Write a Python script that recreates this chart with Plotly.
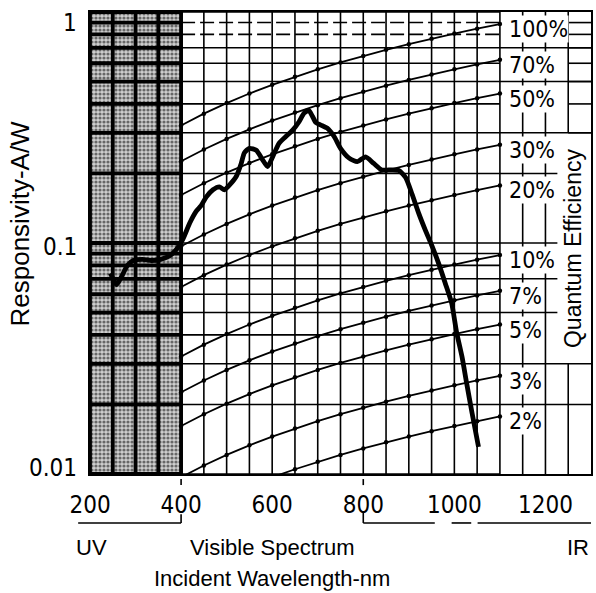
import math
import plotly.graph_objects as go

# ---------------- data ----------------
wavelength_nm = [245, 258, 270, 282, 295, 315, 335, 355, 375, 390, 404, 419, 433, 444,
                 455, 470, 484, 495, 506, 521, 532, 539, 550, 565, 579, 590, 601, 615,
                 630, 645, 659, 670, 680, 688, 696, 707, 721, 736, 750, 769, 787, 805,
                 823, 841, 856, 878, 893, 907, 922, 936, 951, 965, 980, 994, 1005, 1017,
                 1027, 1039, 1053]
responsivity = [0.074, 0.066, 0.072, 0.080, 0.084, 0.085, 0.084, 0.085, 0.088, 0.094,
                0.104, 0.122, 0.137, 0.145, 0.158, 0.170, 0.175, 0.170, 0.178, 0.194,
                0.221, 0.246, 0.257, 0.252, 0.229, 0.214, 0.236, 0.270, 0.289, 0.308,
                0.335, 0.365, 0.375, 0.355, 0.332, 0.324, 0.314, 0.289, 0.257, 0.233,
                0.225, 0.236, 0.221, 0.207, 0.207, 0.206, 0.192, 0.163, 0.134, 0.114,
                0.097, 0.082, 0.067, 0.055, 0.041, 0.032, 0.0247, 0.0183, 0.0131]

qe_levels = [1.0, 0.7, 0.5, 0.3, 0.2, 0.1, 0.07, 0.05, 0.03, 0.02]
qe_labels = ["100%", "70%", "50%", "30%", "20%", "10%", "7%", "5%", "3%", "2%"]
qe_wavelengths = list(range(400, 1101, 50))
HC_OVER_E = 1239.84  # nm·W/A : R = QE * lambda / 1239.84

x_tick_vals = [200, 400, 600, 800, 1000, 1200]
y_tick_vals = [1, 0.1, 0.01]
y_tick_text = ["1", "0.1", "0.01"]

# grid definitions
y_grid = [m * 10.0 ** e for e in (-2, -1) for m in range(1, 10)] + [1.0]
y_grid_dashed = [0.9, 0.8]
x_grid_uv = [200, 250, 300, 350, 400]
x_grid_vis = list(range(450, 1101, 50))
qe_separators = [0.7, 0.5, 0.3, 0.2, 0.1, 0.07, 0.05, 0.03, 0.02]

NARROW = "Liberation Sans Narrow, Arial Narrow, DejaVu Sans Condensed, sans-serif"
SANS = "Liberation Sans, Arial, sans-serif"


def seg_trace(segs, width, dash="solid"):
    xs, ys = [], []
    for x0, y0, x1, y1 in segs:
        xs += [x0, x1, None]
        ys += [y0, y1, None]
    return go.Scatter(x=xs, y=ys, mode="lines",
                      line=dict(color="black", width=width, dash=dash),
                      hoverinfo="skip", showlegend=False)


fig = go.Figure()

# UV stippled band
fig.add_trace(go.Scatter(
    x=[200, 400, 400, 200, 200], y=[0.01, 0.01, 1, 1, 0.01],
    mode="lines", line=dict(width=0), fill="toself", fillcolor="#999",
    fillpattern=dict(shape=".", size=4, solidity=0.5, fgcolor="black", bgcolor="#cfcfcf"),
    hoverinfo="skip", showlegend=False))

# thick grid in the UV band
uv_segs = [(200, v, 400, v) for v in y_grid] + [(x, 0.01, x, 1) for x in x_grid_uv]
fig.add_trace(seg_trace(uv_segs, 3.8))

# thin grid in the visible / IR area
vis_segs = [(400, v, 1100, v) for v in y_grid if not any(abs(v - d) < 1e-9 for d in y_grid_dashed)]
vis_segs += [(x, 0.01, x, 1) for x in x_grid_vis]
fig.add_trace(seg_trace(vis_segs, 1.6))
fig.add_trace(seg_trace([(400, v, 1100, v) for v in y_grid_dashed], 1.6, dash="14px,5px"))

# grid of the label column (1100-1300 nm)
lab_segs = []
for v in qe_separators:
    if v >= 0.3 or v <= 0.03:
        lab_segs.append((1100, v, 1300, v))
    else:
        lab_segs.append((1100, v, 1250, v))
for v in y_grid:
    if 0.3 < v < 1.0:
        lab_segs.append((1250, v, 1300, v))
lab_segs += [(1150, 0.01, 1150, 1), (1200, 0.01, 1200, 1),
             (1250, 0.3, 1250, 1), (1250, 0.01, 1250, 0.03)]
fig.add_trace(seg_trace(lab_segs, 1.6))

# constant quantum-efficiency lines
for qe in qe_levels:
    fig.add_trace(go.Scatter(
        x=qe_wavelengths, y=[qe * w / HC_OVER_E for w in qe_wavelengths],
        mode="lines+markers", line=dict(color="black", width=1.8),
        marker=dict(color="black", size=4.5),
        hoverinfo="skip", showlegend=False))

# responsivity curve
fig.add_trace(go.Scatter(
    x=wavelength_nm, y=responsivity, mode="lines",
    line=dict(color="black", width=4.8, shape="spline", smoothing=0.6),
    hoverinfo="skip", showlegend=False))

annotations = []
# y tick labels
for v, t, dy in zip(y_tick_vals, y_tick_text, [-11, -4, 6]):
    annotations.append(dict(xref="paper", x=0, xanchor="right", xshift=-11,
                            yref="y", y=math.log10(v), yshift=dy, text=t,
                            showarrow=False, font=dict(family=NARROW, size=24)))
# QE labels
for qe, lab in zip(qe_levels, qe_labels):
    annotations.append(dict(xref="x", x=1100, xanchor="left", xshift=8,
                            yref="y", y=math.log10(qe * 1100 / HC_OVER_E), yshift=-5,
                            text=lab, showarrow=False, bgcolor="white", borderpad=0,
                            font=dict(family=NARROW, size=23)))
# axis titles & spectrum labels
annotations += [
    dict(xref="paper", yref="paper", x=0.964, y=0.489, xanchor="center", yanchor="middle",
         text="Quantum Efficiency", textangle=-90, showarrow=False, bgcolor="white",
         borderpad=2, font=dict(family=SANS, size=23)),
    dict(xref="paper", yref="paper", x=-0.139, y=0.543, xanchor="center", yanchor="middle",
         text="Responsivity-A/W", textangle=-90, showarrow=False,
         font=dict(family=SANS, size=26)),
    dict(xref="paper", yref="paper", x=0.002, y=-0.160, xanchor="center", yanchor="middle",
         text="UV", showarrow=False, font=dict(family=SANS, size=22)),
    dict(xref="paper", yref="paper", x=0.364, y=-0.160, xanchor="center", yanchor="middle",
         text="Visible Spectrum", showarrow=False, font=dict(family=SANS, size=22)),
    dict(xref="paper", yref="paper", x=1.0, xanchor="right", y=-0.160, yanchor="middle",
         text="IR", showarrow=False, font=dict(family=SANS, size=22)),
    dict(xref="paper", yref="paper", x=0.364, y=-0.227, xanchor="center", yanchor="middle",
         text="Incident Wavelength-nm", showarrow=False, font=dict(family=SANS, size=22)),
]


def xp(nm):
    """paper x of a wavelength (x axis is linear 200..1300)"""
    return (nm - 200) / 1100.0


shape_line = dict(color="black", width=1.6)
yb = -0.106
brackets = [  # (nm0, y0, nm1, y1)
    (174, yb, 400, yb), (400, -0.087, 400, yb),
    (400, -0.011, 400, -0.024), (800, -0.011, 800, -0.024),
    (800, -0.084, 800, yb), (800, yb, 957, yb), (994, yb, 1037, yb), (1051, yb, 1300, yb),
]
shapes = [dict(type="line", xref="paper", yref="paper", x0=xp(a), x1=xp(c), y0=b, y1=d,
               line=shape_line) for a, b, c, d in brackets]

fig.update_layout(
    width=596, height=593,
    margin=dict(l=90, r=3, t=12, b=119),
    paper_bgcolor="white", plot_bgcolor="white",
    font=dict(color="black", family=SANS),
    showlegend=False,
    annotations=annotations, shapes=shapes,
    xaxis=dict(range=[200, 1300], tickvals=x_tick_vals, ticks="",
               showgrid=False, zeroline=False, showline=True, mirror=True,
               linecolor="black", linewidth=2, ticklabelstandoff=8,
               tickfont=dict(family=NARROW, size=24, color="black")),
    yaxis=dict(type="log", range=[-2, 0], showticklabels=False, ticks="",
               showgrid=False, zeroline=False, showline=True, mirror=True,
               linecolor="black", linewidth=2),
)

fig.write_html("out.html", config={"displayModeBar": False},
               post_script="document.body.style.margin='0';document.body.style.overflow='hidden';")
